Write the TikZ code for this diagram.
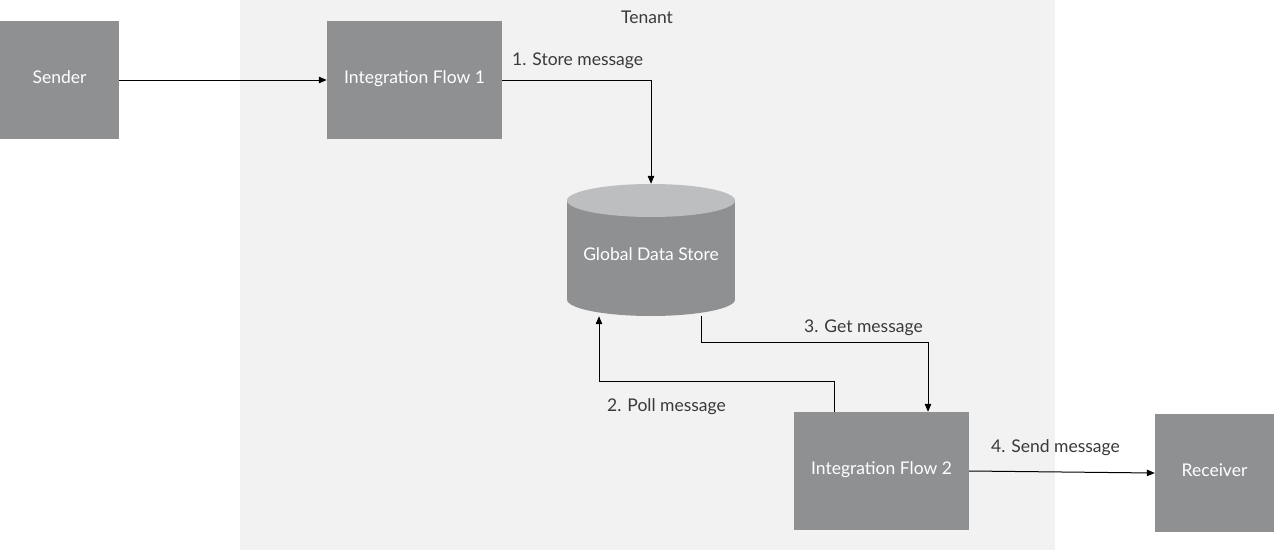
\documentclass[tikz,border=0pt]{standalone}
\usepackage{fontspec}
\setmainfont{Lato}
\usetikzlibrary{arrows.meta}
\definecolor{boxgray}{HTML}{8F9092}
\definecolor{topgray}{HTML}{BDBEC0}
\definecolor{tenantbg}{HTML}{F2F2F2}
\definecolor{labelgray}{HTML}{3A3A3A}
\begin{document}
\begin{tikzpicture}[x=1pt,y=-1pt,
  every node/.style={font=\fontsize{17.5}{20}\selectfont},
  block/.style={rectangle,fill=boxgray,text=white,inner sep=0pt,minimum height=118pt,
    text height=12.5pt,text depth=6.5pt},
  sidebox/.style={block,minimum width=119pt},
  flowbox/.style={block,minimum width=175pt},
  boxtext/.style={text=white,inner sep=0pt,text height=12.5pt,text depth=6.5pt},
  steplabel/.style={text=labelgray,inner sep=0pt,anchor=base west},
  conn/.style={line width=1pt,-{Triangle[length=8pt,width=6.5pt]}}
]
\useasboundingbox (0,0) rectangle (1274,551);
\fill[white] (0,0) rectangle (1274,551);
% tenant area
\fill[tenantbg] (240,0) rectangle (1055,550);
\node[text=labelgray,inner sep=0pt,anchor=base] (tenant) at (647,24) {Tenant};

% boxes
\node[sidebox] (sender) at (59.5,80) {Sender};
\node[flowbox] (if1) at (414.5,80) {Integration Flow 1};
\node[flowbox] (if2) at (881.5,471) {Integration Flow 2};
\node[sidebox] (recv) at (1214.5,473) {Receiver};

% global data store cylinder
\node[minimum width=168pt,minimum height=132pt,inner sep=0pt] (gds) at (651,250) {};
\fill[boxgray] (567,200.5) rectangle (735,299.5);
\fill[boxgray] (651,299.5) ellipse [x radius=84, y radius=16.5];
\fill[topgray] (651,200.5) ellipse [x radius=84, y radius=16.5];
\node[boxtext] (gdstext) at ([yshift=-7.7pt]gds.center) {Global Data Store};

% connectors
\draw[conn] (sender.east) -- (if1.west);
\draw[conn] (if1.east) -| (gds.north);
\draw[conn] ([xshift=50pt]gds.south) -- ++(0,26) -| ([xshift=46.5pt]if2.north);
\draw[conn] ([xshift=-47.5pt]if2.north) -- ++(0,-30) -| ([xshift=-52pt]gds.south);
\draw[conn] (if2.east) -- (recv.west);

% step labels
\node[steplabel] (l1) at (512,66) {1. Store message};
\node[steplabel] (l2) at (607,411.7) {2. Poll message};
\node[steplabel] (l3) at (804,332.3) {3. Get message};
\node[steplabel] (l4) at (991,452.7) {4. Send message};
\end{tikzpicture}
\end{document}
